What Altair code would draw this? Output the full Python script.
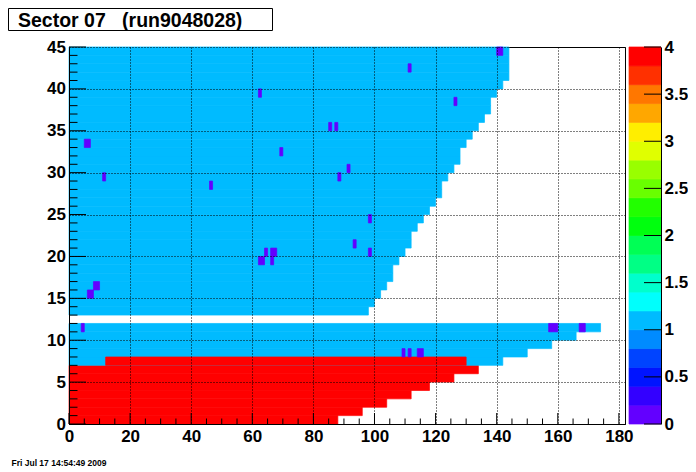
import altair as alt
import pandas as pd

# ---------------- data ----------------
# one entry per y-row (0..44): filled length along x and base value
row_len = [88, 96, 104, 112, 118, 126, 134, 142, 150, 158, 166, 174, 0, 98, 100,
           102, 104, 106, 106, 108, 110, 112, 112, 114, 116, 118, 120, 122, 122, 124,
           126, 128, 128, 130, 132, 134, 136, 138, 138, 140, 142, 144, 144, 144, 144]
row_val = [4, 4, 4, 4, 4, 4, 4, 1, 1, 1, 1, 1, 1, 1, 1,
           1, 1, 1, 1, 1, 1, 1, 1, 1, 1, 1, 1, 1, 1, 1,
           1, 1, 1, 1, 1, 1, 1, 1, 1, 1, 1, 1, 1, 1, 1]

# cells drawn over the base rows
over_x0 = [12, 140, 111, 126, 62, 85, 87, 5, 69, 91, 11, 88, 46, 98, 93, 64, 66, 98,
           62, 66, 8, 6, 4, 157, 167, 109, 111, 114]
over_x1 = [130, 142, 112, 127, 63, 86, 88, 7, 70, 92, 12, 89, 47, 99, 94, 65, 68, 99,
           64, 67, 10, 8, 5, 160, 169, 110, 112, 116]
over_row = [7, 44, 42, 38, 39, 35, 35, 33, 32, 30, 29, 29, 28, 24, 21, 20, 20, 20,
            19, 19, 16, 15, 11, 11, 11, 8, 8, 8]
over_val = [4, 0.1, 0.1, 0.1, 0.1, 0.1, 0.1, 0.1, 0.1, 0.1, 0.1, 0.1, 0.1, 0.1,
            0.1, 0.1, 0.1, 0.1, 0.1, 0.1, 0.1, 0.1, 0.1, 0.1, 0.1, 0.1, 0.1, 0.1]

# colour palette (20 contour levels, 0..4)
thresholds = [0.2, 0.4, 0.6, 0.8, 1.0, 1.2, 1.4, 1.6, 1.8, 2.0,
              2.2, 2.4, 2.6, 2.8, 3.0, 3.2, 3.4, 3.6, 3.8]
palette = ["#6300FF", "#3300FF", "#0014FF", "#0044FF", "#008BFF",
           "#00BBFF", "#00FFFC", "#00FFCC", "#00FF85", "#00FF55",
           "#00FF0E", "#22FF00", "#69FF00", "#99FF00", "#E0FF00",
           "#FFEE00", "#FFA700", "#FF7700", "#FF3000", "#FF0000"]
cbar_lo = [0.0, 0.2, 0.4, 0.6, 0.8, 1.0, 1.2, 1.4, 1.6, 1.8,
           2.0, 2.2, 2.4, 2.6, 2.8, 3.0, 3.2, 3.4, 3.6, 3.8]

x_major = [0, 20, 40, 60, 80, 100, 120, 140, 160, 180]
x_minor = [5, 10, 15, 25, 30, 35, 45, 50, 55, 65, 70, 75, 85, 90, 95, 105, 110, 115,
           125, 130, 135, 145, 150, 155, 165, 170, 175]
y_major = [0, 5, 10, 15, 20, 25, 30, 35, 40, 45]
y_minor = [1, 2, 3, 4, 6, 7, 8, 9, 11, 12, 13, 14, 16, 17, 18, 19, 21, 22, 23, 24,
           26, 27, 28, 29, 31, 32, 33, 34, 36, 37, 38, 39, 41, 42, 43, 44]
cbar_ticks = [0, 0.5, 1, 1.5, 2, 2.5, 3, 3.5, 4]

title_text = "Sector 07\u00a0\u00a0\u00a0(run9048028)"
date_text = "Fri Jul 17 14:54:49 2009"

# ---------------- tables ----------------
cells = []
for r, (ln, v) in enumerate(zip(row_len, row_val)):
    if ln > 0:
        cells.append({"x0": 0, "x1": ln, "y0": r, "y1": r + 1, "v": v})
for a, b, r, v in zip(over_x0, over_x1, over_row, over_val):
    cells.append({"x0": a, "x1": b, "y0": r, "y1": r + 1, "v": v})
cells = pd.DataFrame(cells)

cbar = pd.DataFrame({"lo": cbar_lo})
cbar["hi"] = cbar_lo[1:] + [4.0]
cbar["mid"] = cbar["lo"] + 0.1

W, H = 556, 377
FONT = "Liberation Sans"
LFS = 17

XS = alt.Scale(domain=[0, 182], nice=False, zero=False)
YS = alt.Scale(domain=[0, 45], nice=False, zero=False)
CS = alt.Scale(domain=[0, 4], nice=False, zero=False)
COLOR = alt.Scale(type="threshold", domain=thresholds, range=palette)

common = dict(ticks=False, tickSize=0, domain=True, domainColor="black", domainWidth=1,
              title=None, labelFont=FONT, labelFontWeight="bold", labelFontSize=LFS,
              labelColor="black", labelFlush=False, labelOverlap=False)
grid_common = dict(grid=True, gridColor="black", gridDash=[1, 2], gridOpacity=1,
                   gridWidth=1, zindex=1, **common)

X_AXIS = alt.Axis(values=x_major, labelPadding=4.5, orient="bottom", **grid_common)
Y_AXIS = alt.Axis(values=y_major, labelPadding=3.5, orient="left", **grid_common)
C_AXIS = alt.Axis(orient="right", offset=36, values=cbar_ticks, format="~g",
                  grid=False, labelPadding=3, zindex=1, **common)

heat = alt.Chart(cells).mark_rect(strokeWidth=0.7).encode(
    x=alt.X("x0:Q", scale=XS, axis=X_AXIS),
    x2="x1:Q",
    y=alt.Y("y0:Q", scale=YS, axis=Y_AXIS),
    y2="y1:Q",
    color=alt.Color("v:Q", scale=COLOR, legend=None),
    stroke=alt.Stroke("v:Q", scale=COLOR, legend=None),
)

xt_major = alt.Chart(pd.DataFrame({"p": x_major})).mark_rule(color="black", strokeWidth=1).encode(
    x=alt.X("p:Q", scale=XS, axis=X_AXIS), y=alt.value(H), y2=alt.value(H - 11))
xt_minor = alt.Chart(pd.DataFrame({"p": x_minor})).mark_rule(color="black", strokeWidth=1).encode(
    x=alt.X("p:Q", scale=XS, axis=X_AXIS), y=alt.value(H), y2=alt.value(H - 5.5))
yt_major = alt.Chart(pd.DataFrame({"p": y_major})).mark_rule(color="black", strokeWidth=1).encode(
    y=alt.Y("p:Q", scale=YS, axis=Y_AXIS), x=alt.value(0), x2=alt.value(17))
yt_minor = alt.Chart(pd.DataFrame({"p": y_minor})).mark_rule(color="black", strokeWidth=1).encode(
    y=alt.Y("p:Q", scale=YS, axis=Y_AXIS), x=alt.value(0), x2=alt.value(8.5))

tbox = alt.Chart(pd.DataFrame({"t": [title_text]})).mark_rect(
    fill="white", stroke="black", strokeWidth=1).encode(
    x=alt.value(-60.5), x2=alt.value(203.5), y=alt.value(-38.5), y2=alt.value(-16.5))
ttext = alt.Chart(pd.DataFrame({"t": [title_text]})).mark_text(
    font=FONT, fontWeight="bold", fontSize=19.5, align="left", baseline="alphabetic",
    color="black").encode(x=alt.value(-51), y=alt.value(-20.5), text="t:N")
dtext = alt.Chart(pd.DataFrame({"t": [date_text]})).mark_text(
    font=FONT, fontWeight="bold", fontSize=8.5, align="left", baseline="alphabetic",
    color="black").encode(x=alt.value(-57.5), y=alt.value(419), text="t:N")

main = alt.layer(heat, xt_major, xt_minor, yt_major, yt_minor, tbox, ttext, dtext)

cb_rect = alt.Chart(cbar).mark_rect(strokeWidth=0.7).encode(
    x=alt.value(560), x2=alt.value(592),
    y=alt.Y("lo:Q", scale=CS, axis=C_AXIS),
    y2="hi:Q",
    color=alt.Color("mid:Q", scale=COLOR, legend=None),
    stroke=alt.Stroke("mid:Q", scale=COLOR, legend=None),
)
cb_ticks = alt.Chart(pd.DataFrame({"p": cbar_ticks})).mark_rule(color="black", strokeWidth=1).encode(
    y=alt.Y("p:Q", scale=CS, axis=C_AXIS), x=alt.value(575), x2=alt.value(592))

cb = alt.layer(cb_rect, cb_ticks)

chart = alt.layer(main, cb).resolve_scale(y="independent").properties(
    width=W, height=H,
    padding={"left": 61, "top": 39, "right": 63, "bottom": 48},
    autosize=alt.AutoSizeParams(type="none"),
    background="white",
).configure_view(stroke="black", strokeWidth=1)

chart.save("out.html", embed_options={"renderer": "svg", "actions": False})
